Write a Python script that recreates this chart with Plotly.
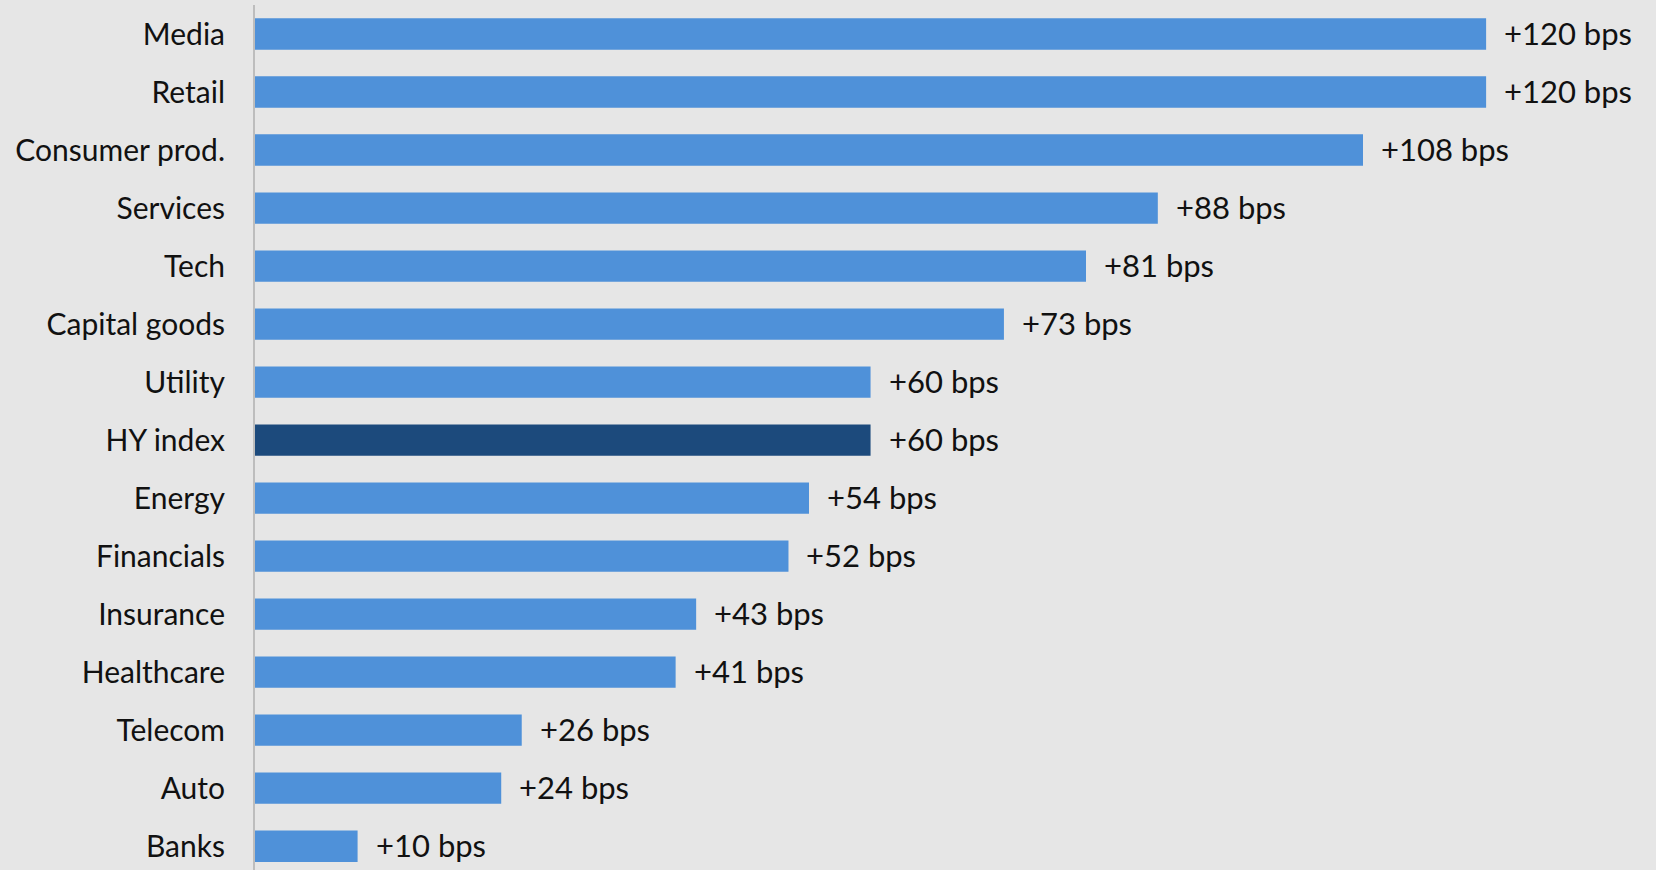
import plotly.graph_objects as go

categories = ["Media", "Retail", "Consumer prod.", "Services", "Tech", "Capital goods",
              "Utility", "HY index", "Energy", "Financials", "Insurance", "Healthcare",
              "Telecom", "Auto", "Banks"]
values = [120, 120, 108, 88, 81, 73, 60, 60, 54, 52, 43, 41, 26, 24, 10]
labels = ["+120 bps", "+120 bps", "+108 bps", "+88 bps", "+81 bps", "+73 bps", "+60 bps",
          "+60 bps", "+54 bps", "+52 bps", "+43 bps", "+41 bps", "+26 bps", "+24 bps", "+10 bps"]
highlight = "HY index"

LIGHT = "#4F91D9"
DARK = "#1C4A7C"
colors = [DARK if c == highlight else LIGHT for c in categories]

FONT = "Lato, 'Noto Sans', sans-serif"

fig = go.Figure(go.Bar(
    x=values, y=categories, orientation="h",
    marker=dict(color=colors, line=dict(width=0)),
    width=0.54,
    hoverinfo="skip",
))

for c, v, t in zip(categories, values, labels):
    fig.add_annotation(x=v, y=c, text=t, xanchor="left", yanchor="middle",
                       xshift=16, yshift=1, showarrow=False,
                       font=dict(family=FONT, size=31, color="#111111"))

fig.update_layout(
    width=1656, height=870,
    margin=dict(l=255, r=16, t=5, b=0),
    paper_bgcolor="#E6E6E6", plot_bgcolor="#E6E6E6",
    showlegend=False,
    font=dict(family=FONT, size=30, color="#111111"),
    xaxis=dict(range=[0, 135], visible=False, showgrid=False, zeroline=False),
    yaxis=dict(type="category", categoryorder="array", categoryarray=categories,
               range=[14.41, -0.5], showline=True, linecolor="#BDBDBD", linewidth=2,
               showgrid=False, zeroline=False, ticks="", ticklabelstandoff=22,
               tickfont=dict(family=FONT, size=30, color="#111111")),
)

fig.write_html("out.html")
